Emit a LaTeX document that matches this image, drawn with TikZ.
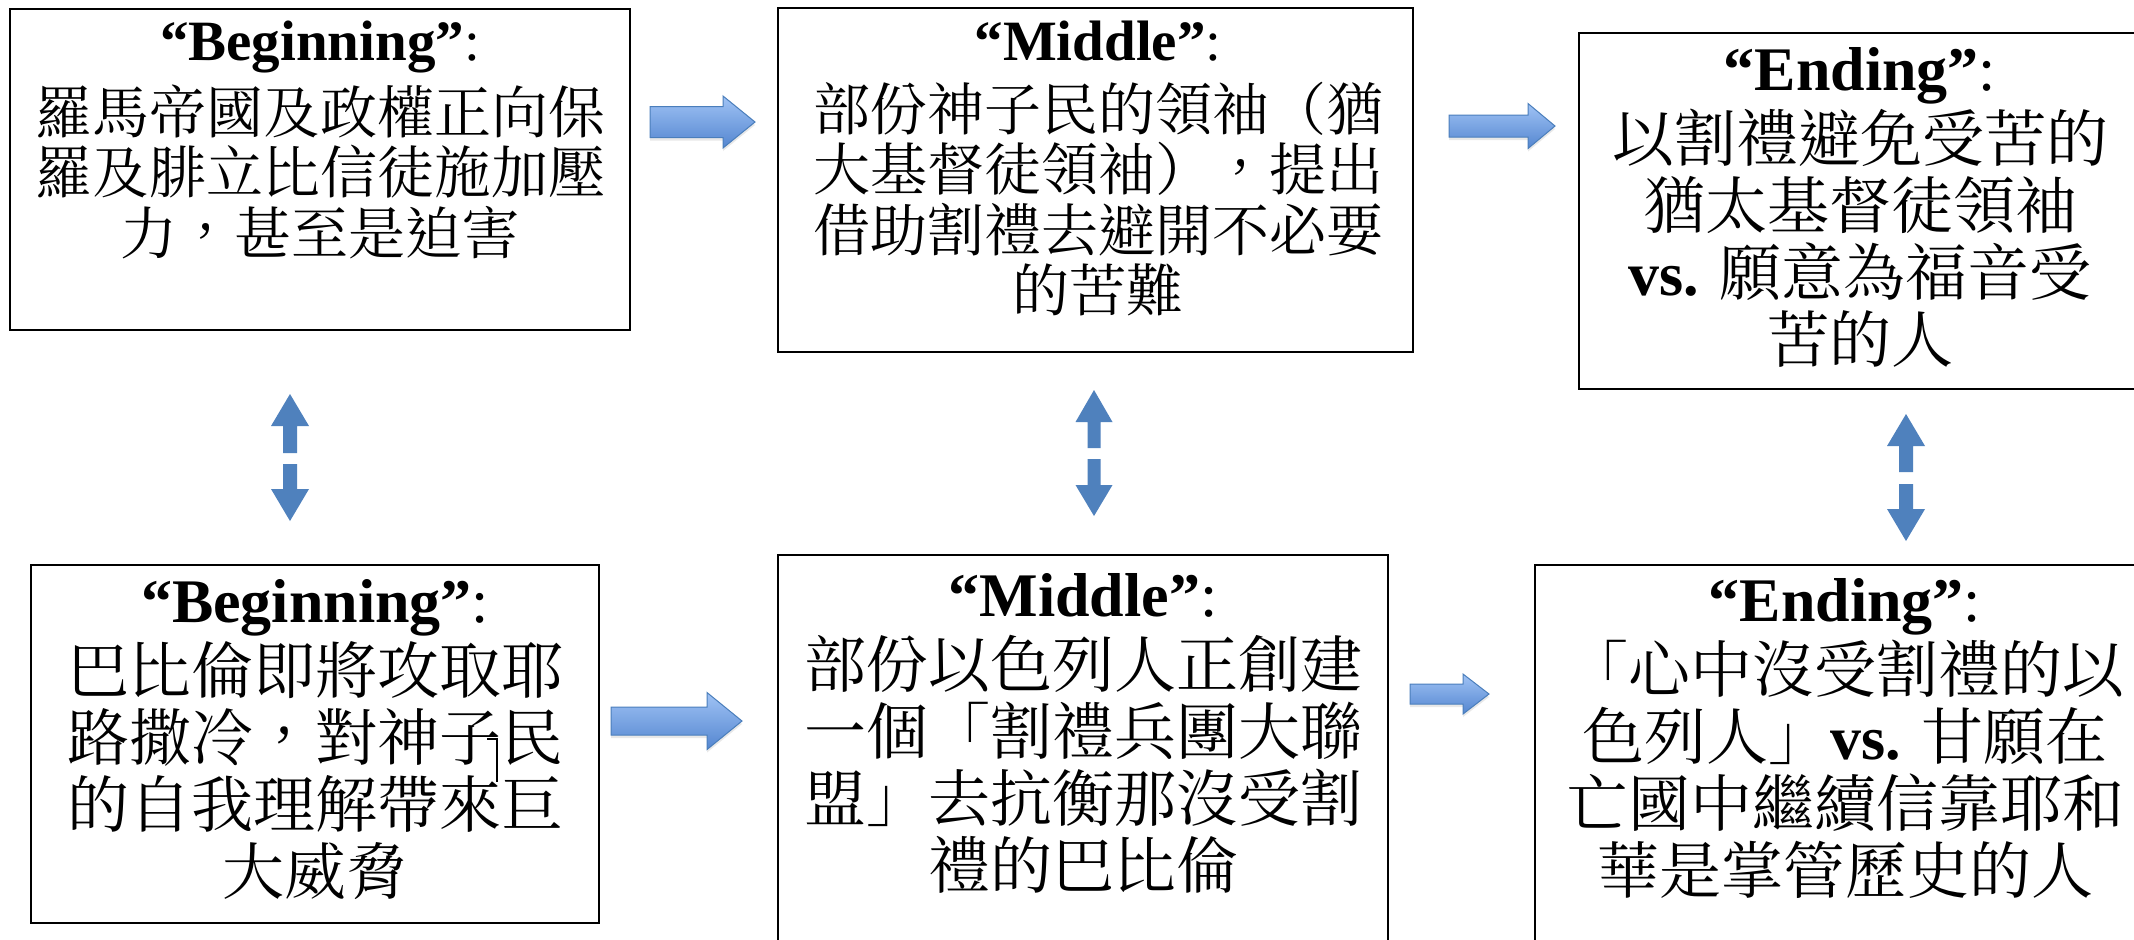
\documentclass[tikz,border=0pt]{standalone}
\usepackage{fontspec}
\setmainfont{Liberation Serif}
\newfontfamily\cjk{Noto Serif CJK TC}
\usetikzlibrary{shadows}
\definecolor{vblue}{RGB}{79,129,189}
\definecolor{hbtop}{RGB}{160,195,245}
\definecolor{hbbot}{RGB}{84,134,208}
\definecolor{hbline}{RGB}{74,126,187}
\tikzset{
  box/.style={draw=black, line width=1pt, fill=white, inner sep=0pt},
  txtA/.style={anchor=north, align=center, inner sep=0pt, font=\fontsize{28.5}{30.25}\selectfont},
  txtB/.style={anchor=north, align=center, inner sep=0pt, font=\fontsize{31}{33.5}\selectfont},
  harrow/.style={draw=hbline, line width=0.5pt, top color=hbtop, bottom color=hbbot,
    drop shadow={opacity=0.18, shadow xshift=0pt, shadow yshift=-1.5pt}},
  varrow/.style={fill=vblue, draw=none},
}
% horizontal block arrow: x1, x2, yc, head start x, head half, body half
\newcommand\myhblockarrow[6]{%
  \draw[harrow] (#1,{#3-#6}) -- (#4,{#3-#6}) -- (#4,{#3-#5}) -- (#2,#3)
    -- (#4,{#3+#5}) -- (#4,{#3+#6}) -- (#1,{#3+#6}) -- cycle;}
% vertical split double arrow
\newcommand\myvdblarrow[9]{%
  \fill[varrow] (#1,#2) -- ({#1+#8},#3) -- ({#1+#9},#3) -- ({#1+#9},#4)
    -- ({#1-#9},#4) -- ({#1-#9},#3) -- ({#1-#8},#3) -- cycle;
  \fill[varrow] (#1,#7) -- ({#1+#8},#6) -- ({#1+#9},#6) -- ({#1+#9},#5)
    -- ({#1-#9},#5) -- ({#1-#9},#6) -- ({#1-#8},#6) -- cycle;}
\begin{document}
\begin{tikzpicture}[x=0.5pt, y=-0.5pt]
\useasboundingbox (0,0) rectangle (2134,939);
\fill[white] (0,0) rectangle (2134,939);

% boxes
\node[box, minimum width=310pt, minimum height=160.5pt] (b1) at (320,169) {};
\node[box, minimum width=317.5pt, minimum height=172pt] (b2) at (1095.5,180) {};
\node[box, minimum width=281pt, minimum height=178pt] (b3) at (1860,211) {};
\node[box, minimum width=284pt, minimum height=179pt] (b4) at (315,744) {};
\node[box, minimum width=305pt, minimum height=202.5pt] (b5) at (1083,757.5) {};
\node[box, minimum width=310pt, minimum height=197.5pt] (b6) at (1845,762.5) {};

% texts
\node[txtA] (t1) at (320,21) {{\bfseries “Beginning”}:\\[4.5pt]
  {\cjk 羅馬帝國及政權正向保}\\{\cjk 羅及腓立比信徒施加壓}\\{\cjk 力，甚至是迫害}};
\node[txtA] (t2) at (1098,21) {{\bfseries “Middle”}:\\[4.5pt]
  {\cjk 部份神子民的領袖（猶}\\{\cjk 大基督徒領袖），提出}\\{\cjk 借助割禮去避開不必要}\\{\cjk 的苦難}};
\node[txtB] (t3) at (1860,47) {{\bfseries “Ending”}:\\[2pt]
  {\cjk 以割禮避免受苦的}\\{\cjk 猶太基督徒領袖}\\{\bfseries vs.} {\cjk 願意為福音受}\\{\cjk 苦的人}};
\node[txtB] (t4) at (315,579) {{\bfseries “Beginning”}:\\[2pt]
  {\cjk 巴比倫即將攻取耶}\\{\cjk 路撒冷，對神子民}\\{\cjk 的自我理解帶來巨}\\{\cjk 大威脅}};
\node[txtB] (t5) at (1083,573) {{\bfseries “Middle”}:\\[2pt]
  {\cjk 部份以色列人正創建}\\{\cjk 一個「割禮兵團大聯}\\{\cjk 盟」去抗衡那沒受割}\\{\cjk 禮的巴比倫}};
\node[txtB] (t6) at (1845,578) {{\bfseries “Ending”}:\\[2pt]
  {\cjk 「心中沒受割禮的以}\\{\cjk 色列人」}{\bfseries vs.} {\cjk 甘願在}\\{\cjk 亡國中繼續信靠耶和}\\{\cjk 華是掌管歷史的人}};

% small stray mark in box 4
\draw[line width=0.6pt] (487,739) -- (497,739) -- (497,782);

% horizontal arrows
\myhblockarrow{650}{755}{122}{723}{26}{15.5}
\myhblockarrow{1449}{1555}{126}{1528}{22.5}{11}
\myhblockarrow{611}{742}{721}{707}{28.5}{14}
\myhblockarrow{1410}{1489}{694}{1463}{20}{10}

% vertical split arrows
\myvdblarrow{290}{394}{426}{453}{464}{489}{521}{19}{7}
\myvdblarrow{1094}{390}{422}{448}{459}{485}{516}{18.5}{6.5}
\myvdblarrow{1906}{414}{446}{472}{484}{509}{541}{19}{7}
\end{tikzpicture}
\end{document}
